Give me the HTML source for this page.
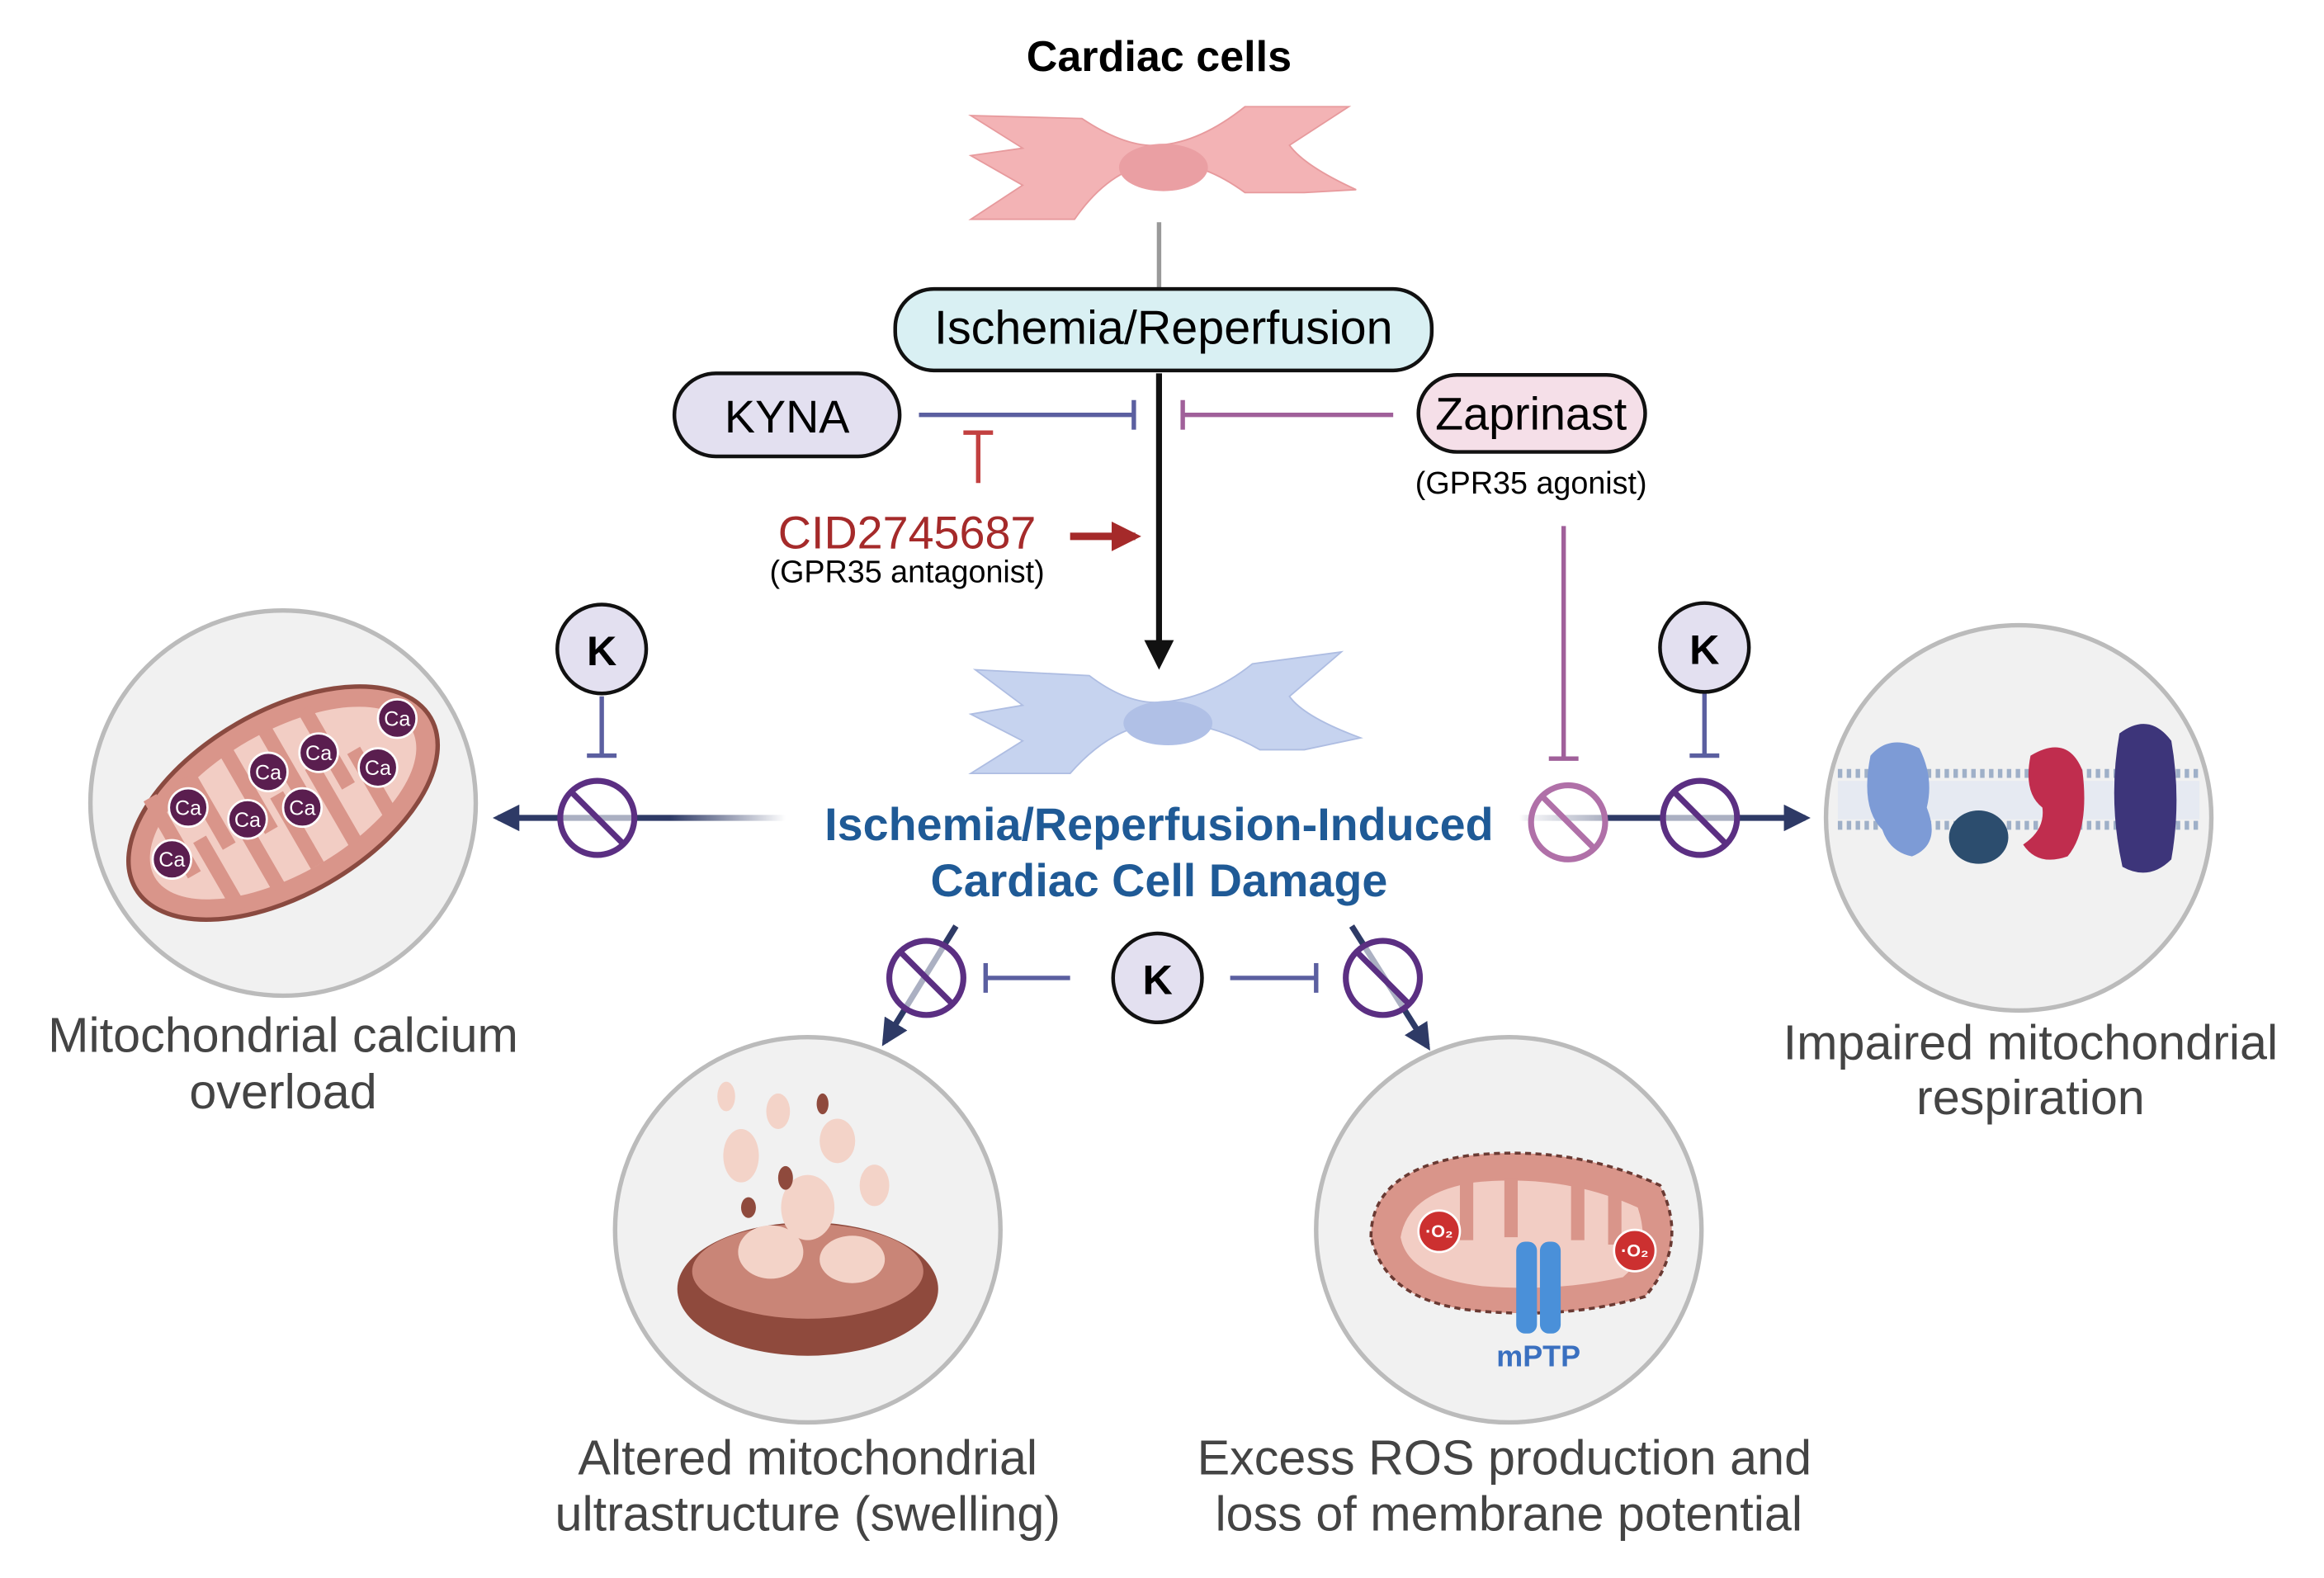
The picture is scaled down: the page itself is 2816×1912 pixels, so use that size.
<!DOCTYPE html>
<html><head><meta charset="utf-8"><style>
html,body{margin:0;padding:0;background:#fff}
svg{display:block}
text{font-family:"Liberation Sans",sans-serif}
</style></head><body>
<svg width="2816" height="1912" viewBox="0 0 1568 1065" preserveAspectRatio="none" xmlns="http://www.w3.org/2000/svg">
<defs>
<marker id="ab" viewBox="0 0 10 10" refX="8" refY="5" markerWidth="5" markerHeight="5" orient="auto"><path d="M0,0L10,5L0,10z" fill="#111"/></marker>
<marker id="an" viewBox="0 0 10 10" refX="8" refY="5" markerWidth="4.5" markerHeight="4.5" orient="auto"><path d="M0,0L10,5L0,10z" fill="#2e3a66"/></marker>
<marker id="ar" viewBox="0 0 10 10" refX="8" refY="5" markerWidth="4" markerHeight="4" orient="auto"><path d="M0,0L10,5L0,10z" fill="#a52a2a"/></marker>
<linearGradient id="gl" gradientUnits="userSpaceOnUse" x1="530" y1="0" x2="336" y2="0"><stop offset="0" stop-color="#2e3a66" stop-opacity="0"/><stop offset="0.4" stop-color="#2e3a66"/></linearGradient>
<linearGradient id="gr" gradientUnits="userSpaceOnUse" x1="1025" y1="0" x2="1218" y2="0"><stop offset="0" stop-color="#2e3a66" stop-opacity="0"/><stop offset="0.3" stop-color="#2e3a66"/></linearGradient>
</defs>
<rect width="1568" height="1065" fill="#fff"/>
<text x="782" y="48" font-size="29" font-weight="bold" text-anchor="middle">Cardiac cells</text>
<path d="M655,78 L730,80 Q760,100 782,98 Q810,96 840,72 L910,72 L870,98 Q880,112 915,128 L880,130 L840,130 Q810,108 782,110 Q750,112 725,148 L655,148 L690,125 L655,105 L690,100 Z" fill="#f3b3b5" stroke="#e79a9d"/>
<ellipse cx="785" cy="113" rx="30" ry="16" fill="#ea9fa3"/>
<line x1="782" y1="150" x2="782" y2="196" stroke="#999" stroke-width="3"/>
<rect x="604" y="195" width="362" height="55" rx="26" fill="#d9f0f3" stroke="#111" stroke-width="2.5"/>
<text x="785" y="232" font-size="32" text-anchor="middle">Ischemia/Reperfusion</text>
<rect x="455" y="252" width="152" height="56" rx="28" fill="#e3e0f0" stroke="#111" stroke-width="2.5"/>
<text x="531" y="292" font-size="31" text-anchor="middle">KYNA</text>
<rect x="957" y="253" width="153" height="52" rx="26" fill="#f5dfe8" stroke="#111" stroke-width="2.5"/>
<text x="1033" y="290" font-size="31" text-anchor="middle">Zaprinast</text>
<text x="1033" y="333" font-size="21" text-anchor="middle">(GPR35 agonist)</text>
<line x1="620" y1="280" x2="765" y2="280" stroke="#5b5fa0" stroke-width="3"/>
<line x1="765" y1="270" x2="765" y2="290" stroke="#5b5fa0" stroke-width="3"/>
<line x1="940" y1="280" x2="798" y2="280" stroke="#a0609a" stroke-width="3"/>
<line x1="798" y1="270" x2="798" y2="290" stroke="#a0609a" stroke-width="3"/>
<line x1="782" y1="252" x2="782" y2="448" stroke="#111" stroke-width="4" marker-end="url(#ab)"/>
<line x1="660" y1="326" x2="660" y2="292" stroke="#c24040" stroke-width="3"/>
<line x1="650" y1="292" x2="670" y2="292" stroke="#c24040" stroke-width="3"/>
<text x="612" y="370" font-size="31" fill="#a52a2a" text-anchor="middle">CID2745687</text>
<text x="612" y="393" font-size="21" text-anchor="middle">(GPR35 antagonist)</text>
<line x1="722" y1="362" x2="766" y2="362" stroke="#a52a2a" stroke-width="5" marker-end="url(#ar)"/>
<path d="M658,452 L735,456 Q760,475 782,474 Q815,472 845,448 L905,440 L870,470 Q880,484 918,498 L880,506 L850,506 Q815,486 782,488 Q750,490 722,522 L655,522 L690,500 L655,482 L690,476 Z" fill="#c6d3ef" stroke="#aebde2"/>
<ellipse cx="788" cy="488" rx="30" ry="15" fill="#b0c0e6"/>
<text x="782" y="567" font-size="31" font-weight="bold" fill="#1f5a96" text-anchor="middle">Ischemia/Reperfusion-Induced</text>
<text x="782" y="605" font-size="31" font-weight="bold" fill="#1f5a96" text-anchor="middle">Cardiac Cell Damage</text>
<line x1="530" y1="552" x2="336" y2="552" stroke="url(#gl)" stroke-width="4" marker-end="url(#an)"/>
<g stroke="#5b2f82" stroke-width="4" fill="none"><circle cx="403" cy="552" r="25" fill="#fff" fill-opacity="0.6"/><line x1="386" y1="535" x2="420" y2="569"/></g>
<line x1="406" y1="470" x2="406" y2="510" stroke="#5b5fa0" stroke-width="3"/><line x1="396" y1="510" x2="416" y2="510" stroke="#5b5fa0" stroke-width="3"/>
<circle cx="406" cy="438" r="30" fill="#e3e0f0" stroke="#111" stroke-width="2.5"/>
<text x="406" y="449" font-size="28" font-weight="bold" text-anchor="middle">K</text>
<line x1="1025" y1="552" x2="1218" y2="552" stroke="url(#gr)" stroke-width="4" marker-end="url(#an)"/>
<line x1="1055" y1="355" x2="1055" y2="512" stroke="#a0609a" stroke-width="3"/><line x1="1045" y1="512" x2="1065" y2="512" stroke="#a0609a" stroke-width="3"/>
<g stroke="#b070a8" stroke-width="4" fill="none"><circle cx="1058" cy="555" r="25" fill="#fff" fill-opacity="0.6"/><line x1="1041" y1="538" x2="1075" y2="572"/></g>
<g stroke="#5b2f82" stroke-width="4" fill="none"><circle cx="1147" cy="552" r="25" fill="#fff" fill-opacity="0.6"/><line x1="1130" y1="535" x2="1164" y2="569"/></g>
<line x1="1150" y1="468" x2="1150" y2="510" stroke="#5b5fa0" stroke-width="3"/><line x1="1140" y1="510" x2="1160" y2="510" stroke="#5b5fa0" stroke-width="3"/>
<circle cx="1150" cy="437" r="30" fill="#e3e0f0" stroke="#111" stroke-width="2.5"/>
<text x="1150" y="448" font-size="28" font-weight="bold" text-anchor="middle">K</text>
<circle cx="781" cy="660" r="30" fill="#e3e0f0" stroke="#111" stroke-width="2.5"/>
<text x="781" y="671" font-size="28" font-weight="bold" text-anchor="middle">K</text>
<line x1="722" y1="660" x2="665" y2="660" stroke="#5b5fa0" stroke-width="3"/><line x1="665" y1="650" x2="665" y2="670" stroke="#5b5fa0" stroke-width="3"/>
<line x1="830" y1="660" x2="888" y2="660" stroke="#5b5fa0" stroke-width="3"/><line x1="888" y1="650" x2="888" y2="670" stroke="#5b5fa0" stroke-width="3"/>
<line x1="645" y1="625" x2="597" y2="703" stroke="#2e3a66" stroke-width="4" marker-end="url(#an)"/>
<line x1="912" y1="625" x2="963" y2="706" stroke="#2e3a66" stroke-width="4" marker-end="url(#an)"/>
<g stroke="#5b2f82" stroke-width="4" fill="none"><circle cx="625" cy="660" r="25" fill="#fff" fill-opacity="0.6"/><line x1="608" y1="643" x2="642" y2="677"/></g>
<g stroke="#5b2f82" stroke-width="4" fill="none"><circle cx="933" cy="660" r="25" fill="#fff" fill-opacity="0.6"/><line x1="916" y1="643" x2="950" y2="677"/></g>
<circle cx="191" cy="542" r="130" fill="#f1f1f1" stroke="#bbb" stroke-width="3"/>
<g transform="rotate(-30 191 542)">
<ellipse cx="191" cy="542" rx="115" ry="62" fill="#d9958a" stroke="#8a4a40" stroke-width="3"/>
<ellipse cx="191" cy="542" rx="100" ry="48" fill="#f2cdc4"/>
<g fill="#d9958a"><rect x="110" y="494" width="10" height="60"/><rect x="140" y="494" width="10" height="55"/><rect x="170" y="494" width="10" height="60"/><rect x="200" y="494" width="10" height="55"/><rect x="230" y="494" width="10" height="60"/><rect x="125" y="535" width="10" height="55"/><rect x="155" y="530" width="10" height="60"/><rect x="185" y="535" width="10" height="55"/><rect x="215" y="530" width="10" height="60"/><rect x="245" y="535" width="10" height="55"/></g>
</g>
<g fill="#5a1e4f" stroke="#fff" stroke-width="1.5">
<circle cx="268" cy="485" r="13"/><circle cx="215" cy="508" r="13"/><circle cx="255" cy="518" r="13"/><circle cx="181" cy="521" r="13"/><circle cx="127" cy="545" r="13"/><circle cx="167" cy="553" r="13"/><circle cx="204" cy="545" r="13"/><circle cx="116" cy="580" r="13"/>
</g>
<g fill="#fff" font-size="14" text-anchor="middle">
<text x="268" y="490">Ca</text><text x="215" y="513">Ca</text><text x="255" y="523">Ca</text><text x="181" y="526">Ca</text><text x="127" y="550">Ca</text><text x="167" y="558">Ca</text><text x="204" y="550">Ca</text><text x="116" y="585">Ca</text>
</g>
<text x="191" y="710" font-size="33" fill="#444" text-anchor="middle">Mitochondrial calcium</text>
<text x="191" y="748" font-size="33" fill="#444" text-anchor="middle">overload</text>
<circle cx="1362" cy="552" r="130" fill="#f1f1f1" stroke="#bbb" stroke-width="3"/>
<g stroke="#9fb0c8"><line x1="1240" y1="522" x2="1484" y2="522" stroke-dasharray="3 3" stroke-width="6"/><line x1="1240" y1="557" x2="1484" y2="557" stroke-dasharray="3 3" stroke-width="6"/></g>
<rect x="1240" y="527" width="244" height="26" fill="#e6eaf2"/>
<path d="M1262,510 Q1275,495 1295,505 Q1305,525 1300,545 Q1310,570 1290,578 Q1275,575 1270,560 Q1255,545 1262,510Z" fill="#7d9bd6"/>
<ellipse cx="1335" cy="565" rx="20" ry="18" fill="#2c4d6e"/>
<path d="M1370,510 Q1395,495 1405,520 Q1410,560 1395,578 Q1375,585 1365,570 Q1380,560 1378,545 Q1365,535 1370,510Z" fill="#c02d4e"/>
<path d="M1430,495 Q1450,480 1465,500 Q1472,540 1465,580 Q1450,595 1432,585 Q1422,540 1430,495Z" fill="#3d357a"/>
<text x="1370" y="715" font-size="33" fill="#444" text-anchor="middle">Impaired mitochondrial</text>
<text x="1370" y="752" font-size="33" fill="#444" text-anchor="middle">respiration</text>
<circle cx="545" cy="830" r="130" fill="#f1f1f1" stroke="#bbb" stroke-width="3"/>
<ellipse cx="545" cy="870" rx="88" ry="45" fill="#8f4a3d"/>
<ellipse cx="545" cy="858" rx="78" ry="32" fill="#c98577"/>
<g fill="#f3d3c8"><ellipse cx="520" cy="845" rx="22" ry="18"/><ellipse cx="575" cy="850" rx="22" ry="16"/><ellipse cx="545" cy="815" rx="18" ry="22"/><ellipse cx="500" cy="780" rx="12" ry="18"/><ellipse cx="565" cy="770" rx="12" ry="15"/><ellipse cx="525" cy="750" rx="8" ry="12"/><ellipse cx="590" cy="800" rx="10" ry="14"/><ellipse cx="490" cy="740" rx="6" ry="10"/></g>
<g fill="#8f4a3d"><ellipse cx="530" cy="795" rx="5" ry="8"/><ellipse cx="555" cy="745" rx="4" ry="7"/><ellipse cx="505" cy="815" rx="5" ry="7"/></g>
<text x="545" y="995" font-size="33" fill="#444" text-anchor="middle">Altered mitochondrial</text>
<text x="545" y="1033" font-size="33" fill="#444" text-anchor="middle">ultrastructure (swelling)</text>
<circle cx="1018" cy="830" r="130" fill="#f1f1f1" stroke="#bbb" stroke-width="3"/>
<path d="M925,835 Q925,790 990,780 Q1060,772 1120,800 Q1140,840 1110,875 Q1060,890 1000,885 Q935,880 925,835Z" fill="#d9958a" stroke="#6a3a33" stroke-width="2" stroke-dasharray="4 3"/>
<path d="M945,835 Q950,805 995,798 Q1055,792 1105,815 Q1115,845 1095,862 Q1050,872 1000,868 Q950,862 945,835Z" fill="#f2cdc4"/>
<g fill="#d9958a"><rect x="985" y="797" width="9" height="40"/><rect x="1015" y="795" width="9" height="40"/><rect x="1060" y="797" width="9" height="40"/><rect x="1085" y="805" width="9" height="35"/></g>
<g stroke="#fff" stroke-width="1.5" fill="#cc3030"><circle cx="971" cy="831" r="14"/><circle cx="1103" cy="844" r="14"/></g>
<g fill="#fff" font-size="12" text-anchor="middle" font-weight="bold"><text x="971" y="835">·O₂</text><text x="1103" y="848">·O₂</text></g>
<rect x="1023" y="838" width="14" height="62" rx="6" fill="#4a90d9"/><rect x="1039" y="838" width="14" height="62" rx="6" fill="#4a90d9"/>
<text x="1038" y="922" font-size="20" font-weight="bold" fill="#3a70c0" text-anchor="middle">mPTP</text>
<text x="1015" y="995" font-size="33" fill="#444" text-anchor="middle">Excess ROS production and</text>
<text x="1018" y="1033" font-size="33" fill="#444" text-anchor="middle">loss of membrane potential</text>
</svg>
</body></html>
